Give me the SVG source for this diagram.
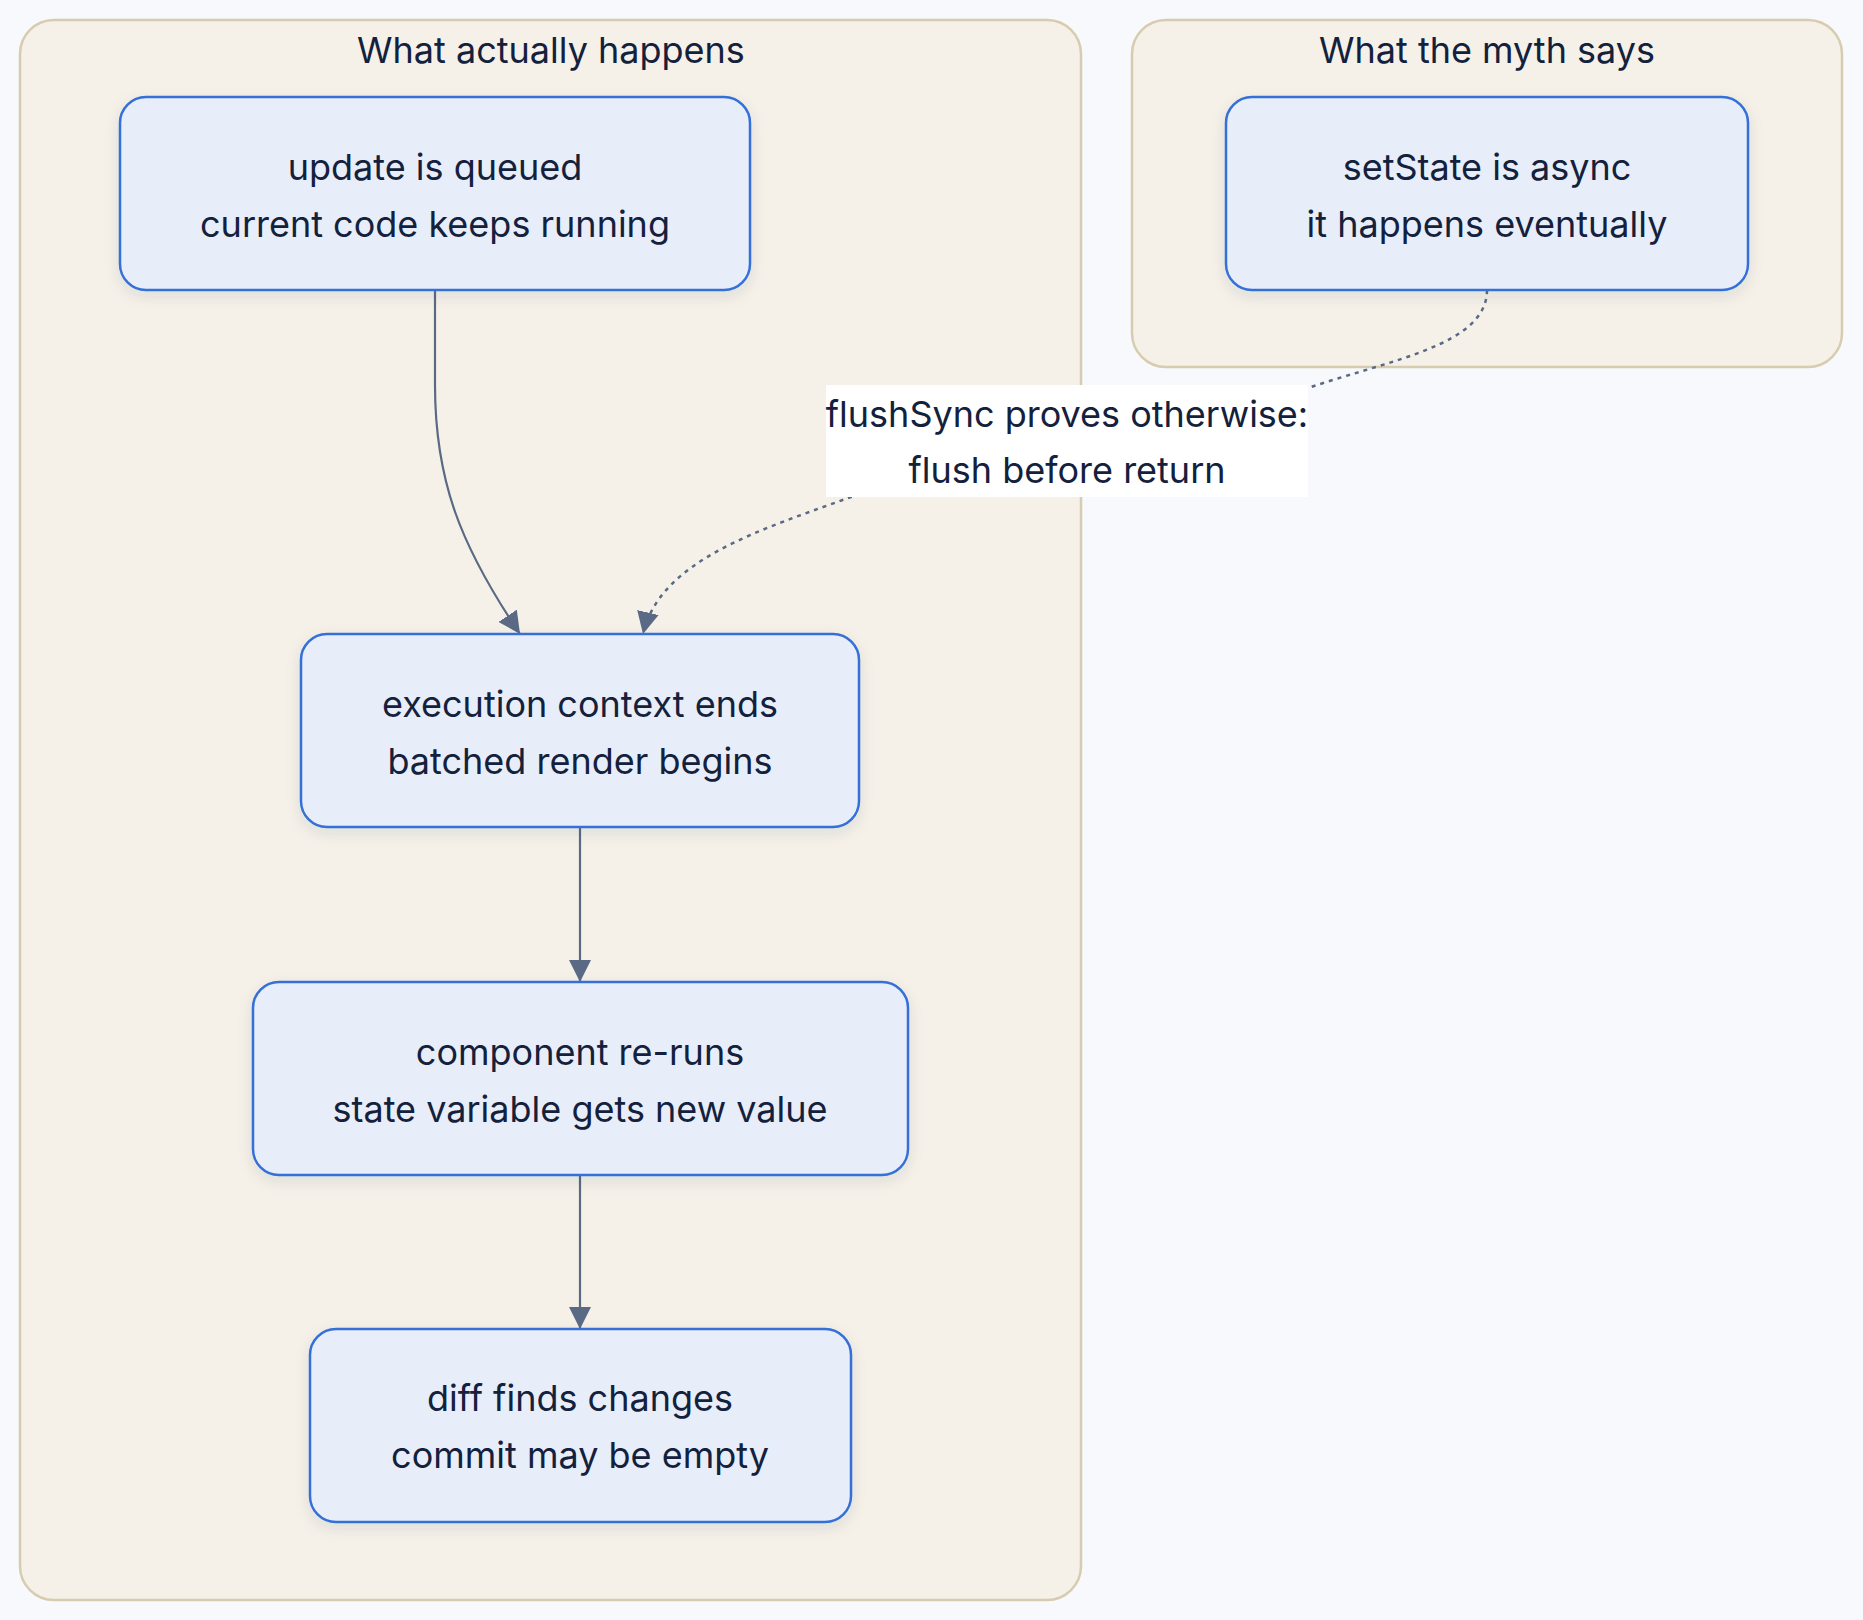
<svg xmlns="http://www.w3.org/2000/svg" width="1863" height="1620" viewBox="0 0 1863 1620">
<defs>
<style>
.bg{fill:#f7f9fc}
.cluster{fill:#f5f1e8;stroke:#d8ccb0;stroke-width:2.5}
.node rect{fill:#e8eef9;stroke:#3470d8;stroke-width:2.5;filter:url(#sh)}
text{font-family:Inter,"Noto Sans","Liberation Sans",sans-serif;font-size:36px;fill:#14213d;text-anchor:middle}
.edge{fill:none;stroke:#5a6a85;stroke-width:2.2}
.dot{stroke-dasharray:4 5;stroke-width:2.5}
.lbl{fill:#ffffff}
</style>
<filter id="sh" x="-20%" y="-20%" width="140%" height="150%">
<feDropShadow dx="0" dy="5" stdDeviation="7" flood-color="#1a2a4a" flood-opacity="0.10"/>
</filter>
<marker id="arr" viewBox="0 0 20 20" refX="20" refY="10" markerWidth="22" markerHeight="22" markerUnits="userSpaceOnUse" orient="auto">
<path d="M0,0 L20,10 L0,20 z" fill="#5a6a85"/>
</marker>
</defs>
<rect class="bg" x="0" y="0" width="1863" height="1620"/>
<g id="cluster-actual">
<rect class="cluster" x="20" y="20" width="1061" height="1580" rx="34"/>
<text x="551" y="63">What actually happens</text>
</g>
<g id="cluster-myth">
<rect class="cluster" x="1132" y="20" width="710" height="347" rx="34"/>
<text x="1487" y="63">What the myth says</text>
</g>
<g id="edges">
<path class="edge" d="M435,290 L435,385 C435,480 460,545 520,634" marker-end="url(#arr)"/>
<path class="edge" d="M580,827 L580,982" marker-end="url(#arr)"/>
<path class="edge" d="M580,1175 L580,1329" marker-end="url(#arr)"/>
<path class="edge dot" d="M1487,290 C1487,345 1390,360 1308,388 L851,497 C760,530 660,560 643,634" marker-end="url(#arr)"/>
</g>
<g id="edge-label">
<rect class="lbl" x="826" y="385" width="482" height="112"/>
<text x="1067" y="427">flushSync proves otherwise:</text>
<text x="1067" y="483">flush before return</text>
</g>
<g id="n-queued" class="node">
<rect x="120" y="97" width="630" height="193" rx="26"/>
<text x="435" y="180">update is queued</text>
<text x="435" y="237">current code keeps running</text>
</g>
<g id="n-myth" class="node">
<rect x="1226" y="97" width="522" height="193" rx="26"/>
<text x="1487" y="180">setState is async</text>
<text x="1487" y="237">it happens eventually</text>
</g>
<g id="n-exec" class="node">
<rect x="301" y="634" width="558" height="193" rx="26"/>
<text x="580" y="717">execution context ends</text>
<text x="580" y="774">batched render begins</text>
</g>
<g id="n-comp" class="node">
<rect x="253" y="982" width="655" height="193" rx="26"/>
<text x="580" y="1065">component re-runs</text>
<text x="580" y="1122">state variable gets new value</text>
</g>
<g id="n-diff" class="node">
<rect x="310" y="1329" width="541" height="193" rx="26"/>
<text x="580" y="1411">diff finds changes</text>
<text x="580" y="1468">commit may be empty</text>
</g>
</svg>
